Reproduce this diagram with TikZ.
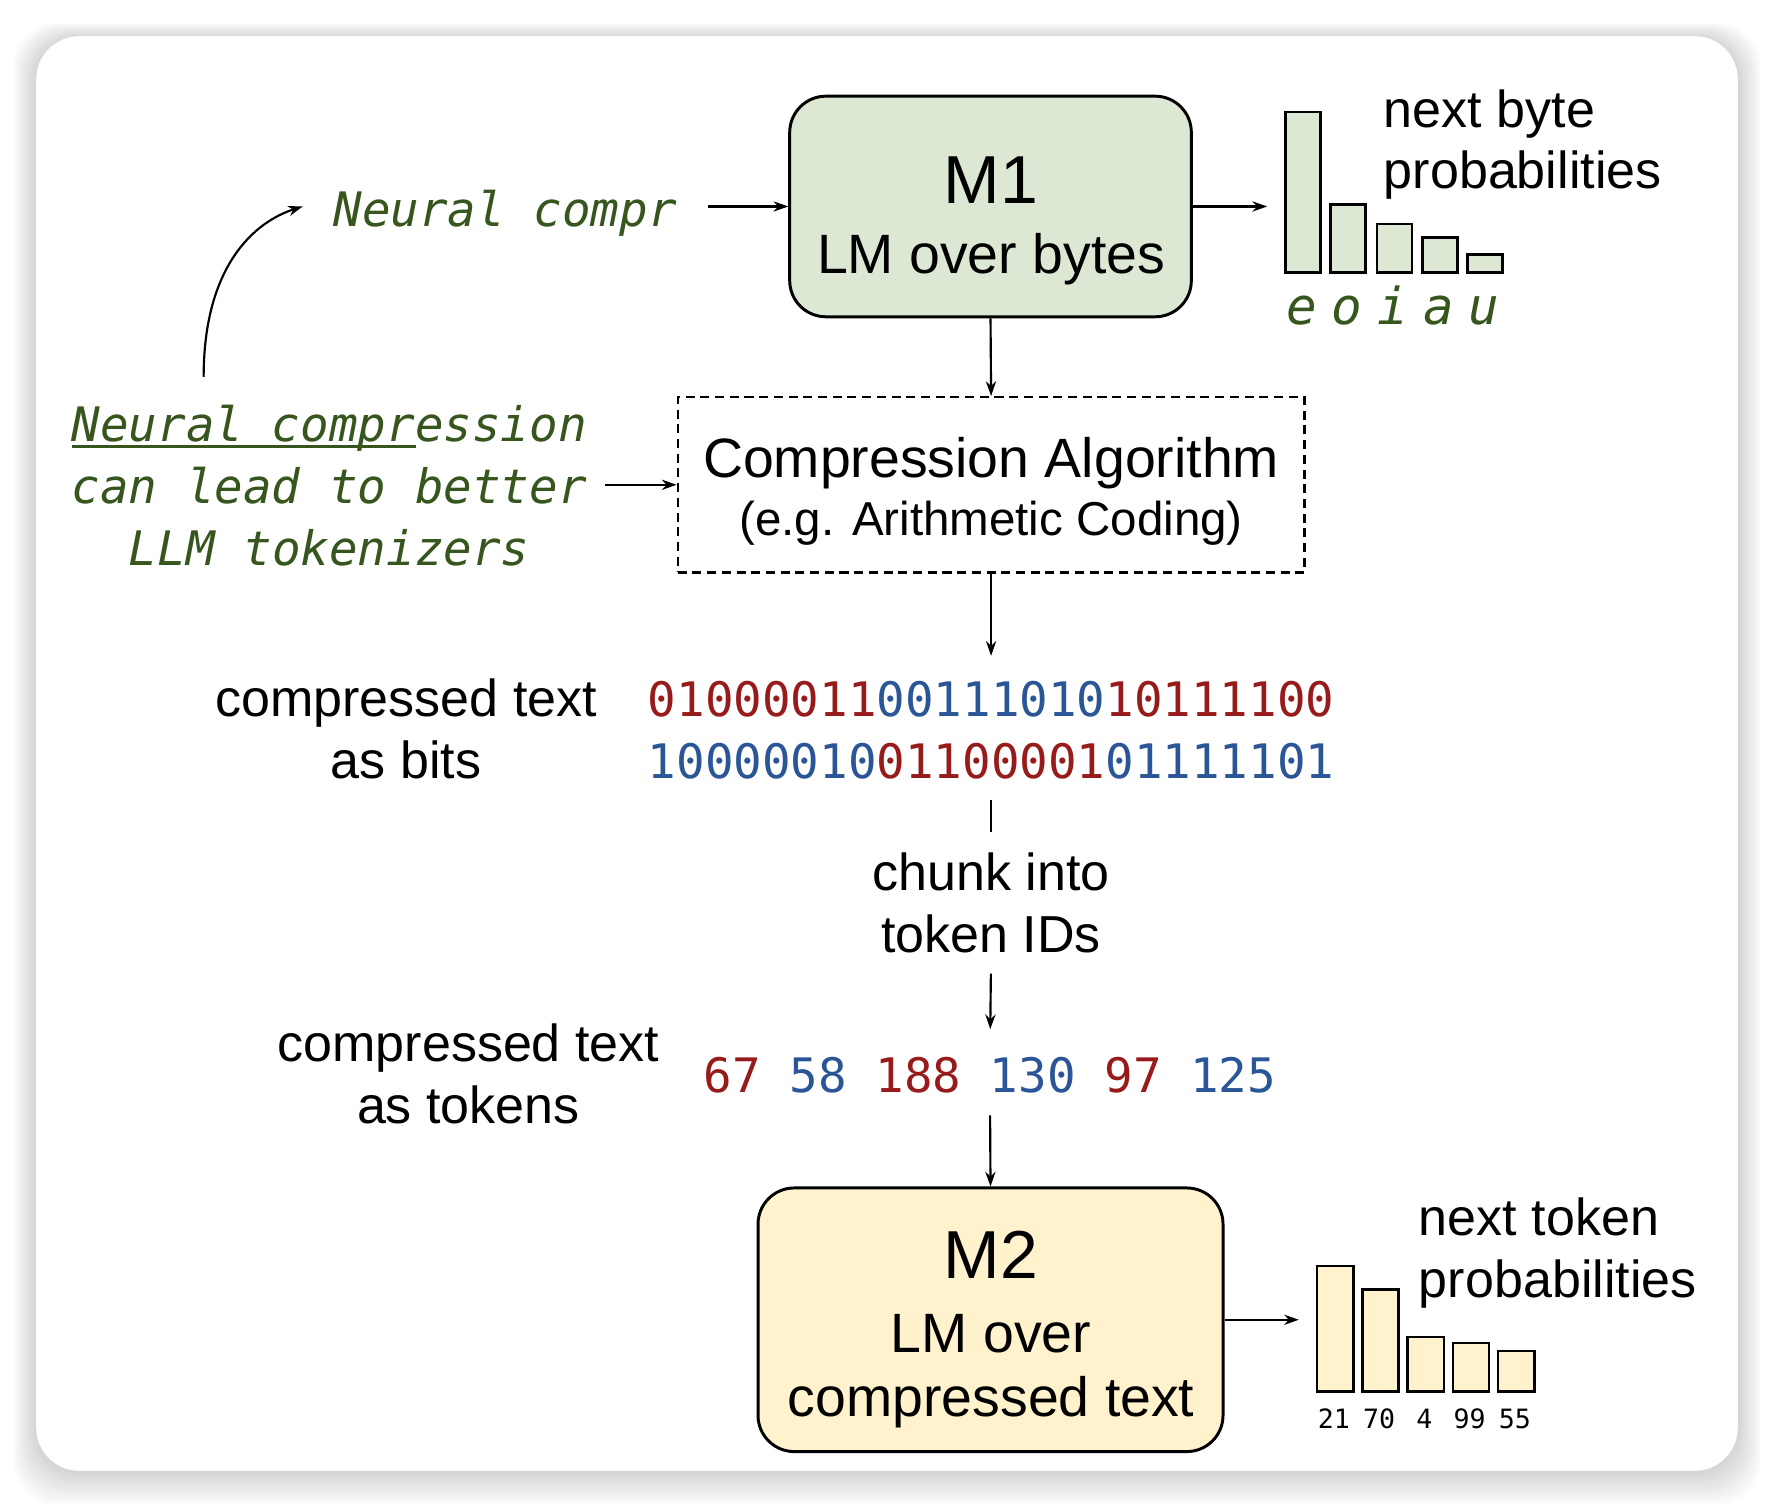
\documentclass[tikz,border=0pt]{standalone}
\usepackage{fontspec}
\setmainfont{Liberation Sans}
\newfontfamily\monof{DejaVu Sans Mono}[ItalicFont={DejaVu Sans Mono Oblique},BoldFont={DejaVu Sans Mono Bold}]
\usetikzlibrary{arrows.meta}
\definecolor{tgreen}{RGB}{55,86,30}
\definecolor{boxgreen}{RGB}{221,232,212}
\definecolor{boxyellow}{RGB}{255,242,204}
\definecolor{bitred}{RGB}{152,27,27}
\definecolor{bitblue}{RGB}{42,85,151}
\tikzset{
 sanstxt/.style={font=\fontsize{46}{55}\selectfont, inner sep=0pt},
 boxtxt/.style={font=\fontsize{49}{55}\selectfont, inner sep=0pt},
 bigtxt/.style={font=\fontsize{60}{60}\selectfont, inner sep=0pt},
 subtxt/.style={font=\fontsize{42}{50}\selectfont, inner sep=0pt},
 greentxt/.style={font=\monof\itshape\fontsize{42}{55}\selectfont, text=tgreen, inner sep=0pt},
 vowel/.style={font=\monof\itshape\fontsize{45}{55}\selectfont, text=tgreen, inner sep=0pt, anchor=base},
 bittxt/.style={font=\monof\fontsize{42}{55}\selectfont, inner sep=0pt},
 smallnum/.style={font=\monof\fontsize{23.5}{28}\selectfont, inner sep=0pt, anchor=base},
 arr/.style={-{Stealth[length=13pt,width=9pt]}, line width=1.9pt},
 plainline/.style={line width=1.9pt},
 lmbox/.style={draw=black, line width=2.6pt, rounded corners=32pt, inner sep=0pt},
 algobox/.style={draw=black, line width=2pt, dash pattern=on 8pt off 5pt, inner sep=0pt},
 bbar/.style={draw=black, line width=2.2pt, fill=boxgreen, inner sep=0pt, anchor=south west, minimum width=31pt},
 tbar/.style={draw=black, line width=2.2pt, fill=boxyellow, inner sep=0pt, anchor=south west, minimum width=32pt},
}
\begin{document}
\begin{tikzpicture}[x=1pt,y=-1pt]
\useasboundingbox (0,0) rectangle (1568,1333);
% card shadow
\foreach \i in {1,...,14}{
  \fill[black, opacity=0.010, rounded corners=40pt] (32-1.5*\i, 32-1.0*\i+2) rectangle (1536+1.5*\i, 1300+2.2*\i);
}
\fill[white, rounded corners=38pt] (32,32) rectangle (1536,1300);

% M1
\node[lmbox, fill=boxgreen, minimum width=355pt, minimum height=195pt] (m1) at (875.5,182.5) {};
\node[bigtxt, anchor=base] (m1a) at (876,180) {M1};
\node[boxtxt, anchor=base] (m1b) at (876,242) {LM over bytes};

% Neural compr
\node[greentxt, anchor=base, inner xsep=27pt] (nc) at (446.5,200) {Neural compr};
\draw[arr] (m1.west -| nc.east) -- (m1.west);

% byte bars
\node[bbar, minimum height=142pt] (bb1) at (1135,242) {};
\node[bbar, minimum height=60pt] (bb2) at (1175,242) {};
\node[bbar, minimum height=43pt] (bb3) at (1216,242) {};
\node[bbar, minimum height=31pt] (bb4) at (1256,242) {};
\node[bbar, minimum height=16pt] (bb5) at (1296,242) {};
\draw[arr, shorten >=15pt] (m1.east) -- (m1.east -| bb1.west);
\node[vowel] (le) at (1150.5,287) {e};
\node[vowel] (lo) at (1190.5,287) {o};
\node[vowel] (li) at (1231.5,287) {i};
\node[vowel] (la) at (1271.5,287) {a};
\node[vowel] (lu) at (1311.5,287) {u};
\node[sanstxt, anchor=base west] (nb1) at (1223,113) {next byte};
\node[sanstxt, anchor=base west] (nb2) at (1223,167) {probabilities};

% compression algorithm
\node[algobox, minimum width=554pt, minimum height=155pt] (algo) at (876,428.5) {};
\node[boxtxt, anchor=base] (alg1) at (876,422) {Compression Algorithm};
\node[subtxt, anchor=base] (alg2) at (876,473) {(e.g. Arithmetic Coding)};
\draw[arr] (m1.south) -- (algo.north);

% left note
\node[greentxt, anchor=base] (lt1) at (291,390) {\rlap{\rule[-6pt]{304pt}{2.6pt}}Neural compression};
\node[greentxt, anchor=base] (lt2) at (291,445) {can lead to better};
\node[greentxt, anchor=base] (lt3) at (291,500) {LLM tokenizers};
\draw[arr, shorten <=16pt] (lt2.east |- algo.west) -- (algo.west);
\coordinate (cstart) at (180,333);
\draw[arr] (cstart) .. controls (180,235) and (225,196) .. (nc.west |- m1.west);

% bits
\node[sanstxt, anchor=base] (cb1) at (359,633) {compressed text};
\node[sanstxt, anchor=base] (cb2) at (359,688) {as bits};
\node[bittxt, anchor=base] (bits1) at (876,633) {\textcolor{bitred}{01000011}\textcolor{bitblue}{00111010}\textcolor{bitred}{10111100}};
\node[bittxt, anchor=base] (bits2) at (876,688) {\textcolor{bitblue}{10000010}\textcolor{bitred}{01100001}\textcolor{bitblue}{01111101}};
\draw[arr, shorten >=22pt] (algo.south) -- (bits1.north);

% chunk
\node[sanstxt, anchor=base] (ch1) at (876,787) {chunk into};
\node[sanstxt, anchor=base] (ch2) at (876,842) {token IDs};
\draw[plainline, shorten <=18pt, shorten >=18pt] (bits2.south) -- (ch1.north);

% tokens
\node[sanstxt, anchor=base] (ct1) at (414,938) {compressed text};
\node[sanstxt, anchor=base] (ct2) at (414,993) {as tokens};
\node[bittxt, anchor=base] (tok) at (875,966) {\textcolor{bitred}{67} \textcolor{bitblue}{58} \textcolor{bitred}{188} \textcolor{bitblue}{130} \textcolor{bitred}{97} \textcolor{bitblue}{125}};
\draw[arr, shorten <=18pt, shorten >=25pt] (ch2.south) -- (tok.north);

% M2
\node[lmbox, fill=boxyellow, minimum width=411pt, minimum height=233pt] (m2) at (875.5,1166.5) {};
\node[bigtxt, anchor=base] (m2a) at (876,1130) {M2};
\node[boxtxt, anchor=base] (m2b) at (876,1195) {LM over};
\node[boxtxt, anchor=base] (m2c) at (876,1252) {compressed text};
\draw[arr, shorten <=19pt] (tok.south) -- (m2.north);

% token bars
\node[tbar, minimum height=111pt] (tb1) at (1163,1231) {};
\node[tbar, minimum height=90pt] (tb2) at (1203,1231) {};
\node[tbar, minimum height=48pt] (tb3) at (1243,1231) {};
\node[tbar, minimum height=43pt] (tb4) at (1283,1231) {};
\node[tbar, minimum height=36pt] (tb5) at (1323,1231) {};
\draw[arr, shorten >=15pt] (m2.east) -- (m2.east -| tb1.west);
\node[smallnum] (n1) at (1179,1263) {21};
\node[smallnum] (n2) at (1219,1263) {70};
\node[smallnum] (n3) at (1259,1263) {4};
\node[smallnum] (n4) at (1299,1263) {99};
\node[smallnum] (n5) at (1339,1263) {55};
\node[sanstxt, anchor=base west] (nt1) at (1254,1092) {next token};
\node[sanstxt, anchor=base west] (nt2) at (1254,1147) {probabilities};
\end{tikzpicture}
\end{document}
